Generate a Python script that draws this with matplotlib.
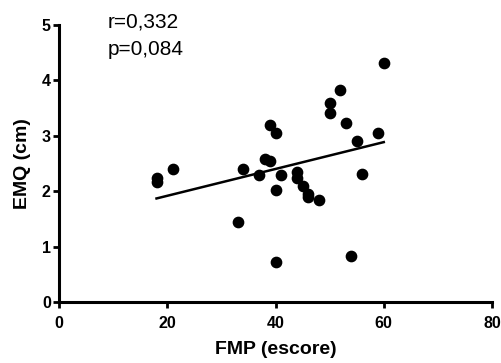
import numpy as np
import matplotlib
matplotlib.use("Agg")
import matplotlib.pyplot as plt

plt.rcParams['font.family'] = ['Liberation Sans', 'DejaVu Sans']

fmp = [18, 18, 21, 33, 34, 37, 38, 39, 39, 40, 40, 40, 41, 44, 44, 45, 46, 46,
       48, 50, 50, 52, 53, 54, 55, 56, 59, 60]
emq = [2.24, 2.16, 2.40, 1.44, 2.40, 2.29, 2.59, 2.55, 3.19, 3.06, 2.03, 0.72,
       2.29, 2.34, 2.24, 2.09, 1.95, 1.89, 1.85, 3.59, 3.41, 3.82, 3.24, 0.83,
       2.91, 2.32, 3.05, 4.31]
xticks = [0, 20, 40, 60, 80]
yticks = [0, 1, 2, 3, 4, 5]
r_text = "r=0,332"
p_text = "p=0,084"

fig = plt.figure(figsize=(5.01, 3.63), dpi=100)
ax = fig.add_axes([0.118, 0.168, 0.864, 0.763])

x = np.array(fmp, dtype=float)
y = np.array(emq, dtype=float)
slope, intercept = np.polyfit(x, y, 1)
xl = np.array([x.min(), x.max()])
ax.plot(xl, slope * xl + intercept, color='black', lw=1.8, zorder=2)
ax.scatter(x, y, s=55, color='black', zorder=3, clip_on=False)

ax.set_xlim(0, 80)
ax.set_ylim(0, 5)
ax.set_xticks(xticks)
ax.set_yticks(yticks)
for s in ['top', 'right']:
    ax.spines[s].set_visible(False)
for s in ['left', 'bottom']:
    ax.spines[s].set_linewidth(2.2)
ax.tick_params(axis='both', width=2.0, length=4, labelsize=11.5)
ax.tick_params(axis='x', pad=6)
ax.tick_params(axis='y', pad=2)
for lab in ax.get_xticklabels() + ax.get_yticklabels():
    lab.set_fontweight('bold')
ax.set_xlabel('FMP (escore)', fontsize=14, fontweight='bold', labelpad=7)
ax.set_ylabel('EMQ (cm)', fontsize=14, fontweight='bold', labelpad=8)
fig.text(108 / 501, 1 - 28 / 363, r_text, fontsize=15, va='baseline', ha='left')
fig.text(108 / 501, 1 - 55 / 363, p_text, fontsize=15, va='baseline', ha='left')

fig.savefig('out.png', dpi=100)
